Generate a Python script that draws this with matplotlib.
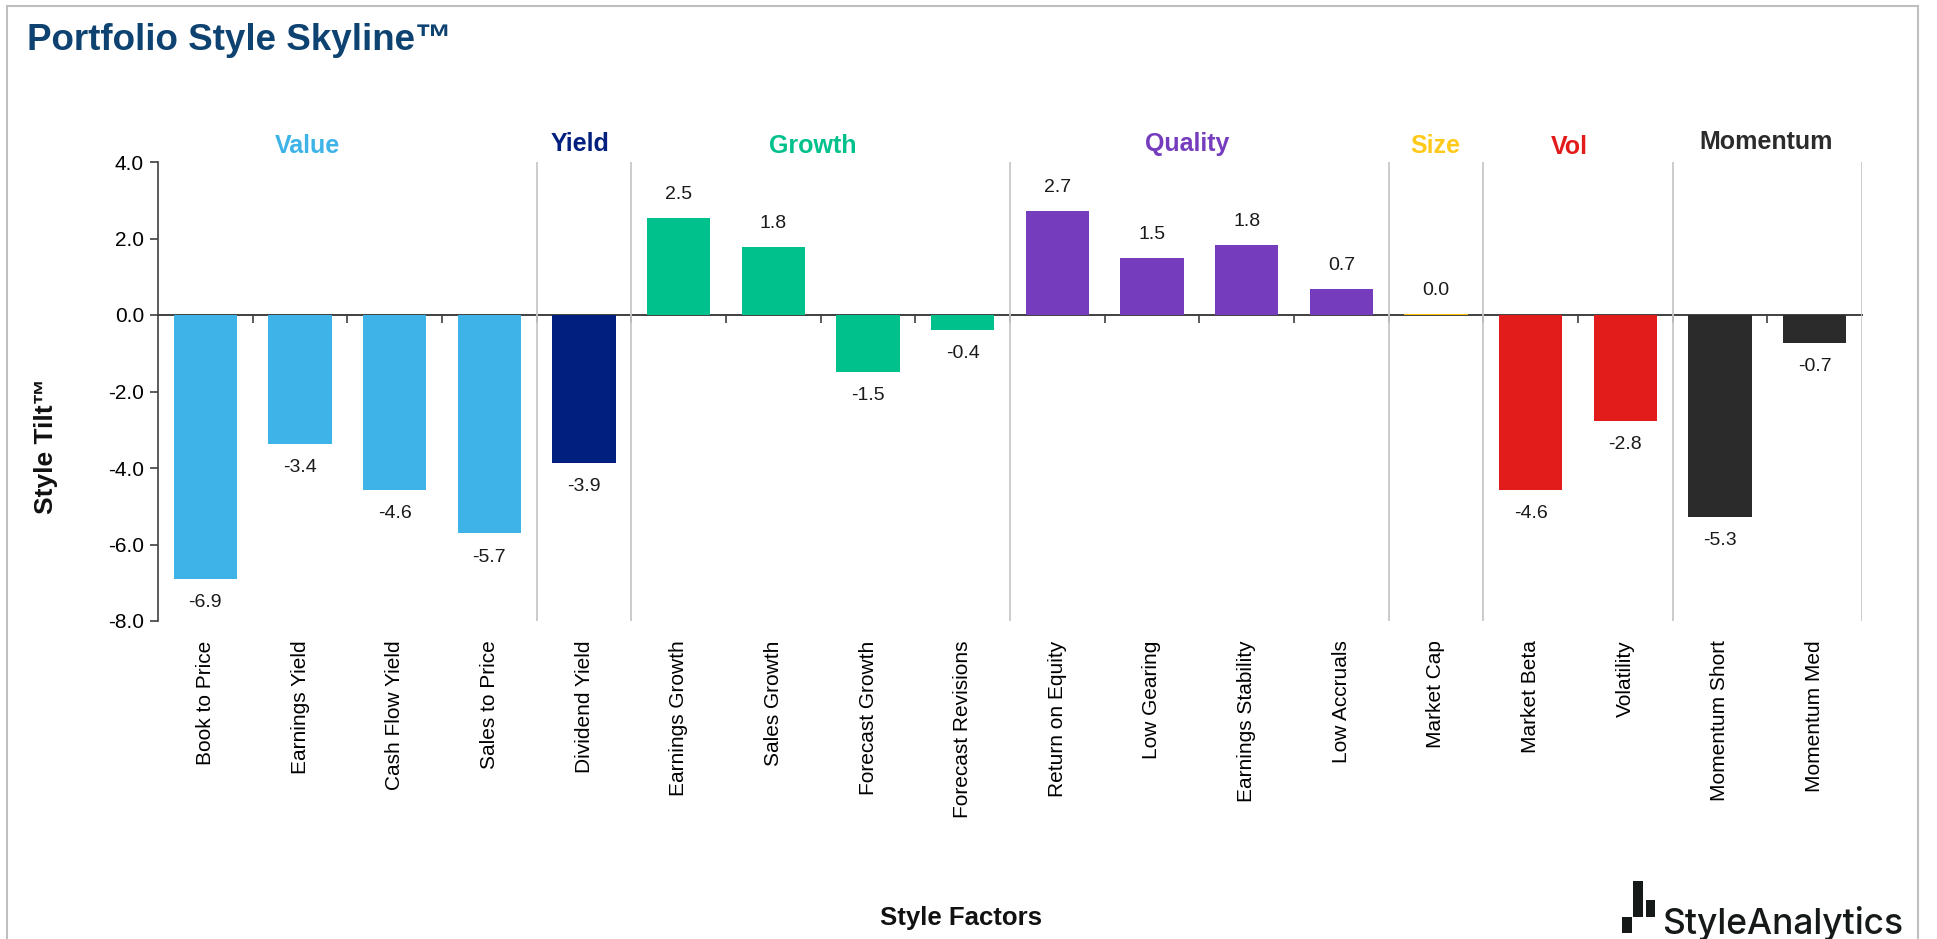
import numpy as np
import matplotlib.pyplot as plt
from matplotlib.patches import Rectangle

factors = ["Book to Price", "Earnings Yield", "Cash Flow Yield", "Sales to Price",
           "Dividend Yield",
           "Earnings Growth", "Sales Growth", "Forecast Growth", "Forecast Revisions",
           "Return on Equity", "Low Gearing", "Earnings Stability", "Low Accruals",
           "Market Cap",
           "Market Beta", "Volatility",
           "Momentum Short", "Momentum Med"]
tilts = [-6.90, -3.37, -4.58, -5.71,
         -3.87,
         2.53, 1.77, -1.48, -0.38,
         2.72, 1.50, 1.83, 0.67,
         0.03,
         -4.58, -2.78,
         -5.27, -0.72]

groups = ["Value", "Yield", "Growth", "Quality", "Size", "Vol", "Momentum"]
group_sizes = [4, 1, 4, 4, 1, 2, 2]
group_colors = ["#3DB3E8", "#001F7E", "#00C08B", "#763CBE", "#FFC000", "#E21B1B", "#2B2B2B"]
label_colors = ["#3DB3E8", "#001F7E", "#00C08B", "#763CBE", "#FFC91A", "#E21B1B", "#2B2B2B"]

plt.rcParams['font.family'] = ['Liberation Sans', 'DejaVu Sans']

W, H = 1937, 939
fig = plt.figure(figsize=(W / 100, H / 100), dpi=100)


def fx(p):
    return p / W


def fy(p):
    return 1 - p / H


# outer frame
fig.add_artist(Rectangle((fx(7), -0.1), fx(1918) - fx(7), fy(6) + 0.1,
                         transform=fig.transFigure, fill=False,
                         edgecolor="#BFBFBF", lw=1.5))

ax = fig.add_axes([fx(158), fy(621), fx(1862) - fx(158), (621 - 162) / H])

x = np.arange(len(factors))
bar_colors = np.repeat(group_colors, group_sizes)
ax.bar(x, tilts, width=0.67, color=bar_colors, zorder=3)

ax.set_xlim(-0.5, len(factors) - 0.5)
ax.set_ylim(-8, 4)
ax.set_yticks(np.arange(-8, 4.1, 2))
ax.yaxis.set_major_formatter(plt.FuncFormatter(lambda v, p: f"{v:.1f}"))
ax.tick_params(axis="y", labelsize=15, length=6, width=1.2, color="#404040", pad=4)

ax.set_xticks(x)
ax.set_xticklabels(factors, rotation=90, fontsize=15, va="top")
ax.tick_params(axis="x", length=0, pad=14)

for s in ["top", "right", "bottom"]:
    ax.spines[s].set_visible(False)
ax.spines["left"].set_color("#404040")
ax.spines["left"].set_linewidth(1.2)

# group separators
bounds = np.cumsum(group_sizes) - 0.5
ax.vlines(bounds, -8, 4, color="#C8C8C8", lw=1.3, zorder=1)

# zero line with little ticks between categories
zero_pos = (0 - ax.get_ylim()[0]) / (ax.get_ylim()[1] - ax.get_ylim()[0])
sec = ax.secondary_xaxis(zero_pos)
sec.set_xticks(x[:-1] + 0.5)
sec.tick_params(direction="in", length=6, width=1.2, color="#404040", labeltop=False, labelbottom=False)
sec.spines["top"].set_color("#404040")
sec.spines["top"].set_linewidth(1.4)
sec.spines["top"].set_zorder(4)

# value labels
for xi, v in zip(x, tilts):
    off = 17 if v >= 0 else -17
    ax.annotate(f"{v:.1f}", (xi, v), xytext=(0, off), textcoords="offset points",
                ha="center", va="center", fontsize=14, color="#1A1A1A")

# group titles (slightly nudged like the original)
label_nudge = [-0.42, -0.04, -0.08, -0.13, -0.01, -0.09, -0.01]
label_y = [4.42, 4.48, 4.42, 4.48, 4.42, 4.40, 4.52]
starts = np.concatenate([[0], np.cumsum(group_sizes)[:-1]])
for g, s0, n, c, dx, ty in zip(groups, starts, group_sizes, label_colors, label_nudge, label_y):
    ax.text(s0 + (n - 1) / 2 + dx, ty, g, ha="center", va="center", fontsize=18,
            fontweight="bold", color=c, clip_on=False)

fig.text(fx(27), fy(41), "Portfolio Style Skyline™", fontsize=26.5, fontweight="bold",
         color="#0D4271", ha="left", va="center")
fig.text(fx(46), fy(446), "Style Tilt™", rotation=90, fontsize=19, fontweight="bold",
         ha="center", va="center", color="#111111")
fig.text(fx(961), fy(918), "Style Factors", fontsize=18.5, fontweight="bold",
         ha="center", va="center", color="#111111")

# logo
for (x0, y0, x1, y1) in [(1622, 917, 1632, 933), (1633, 881, 1643, 917), (1646, 900, 1655, 917)]:
    fig.add_artist(Rectangle((fx(x0), fy(y1)), fx(x1) - fx(x0), fy(y0) - fy(y1),
                             transform=fig.transFigure, color="#151918", lw=0))
fig.text(fx(1662), fy(934), "StyleAnalytics", fontsize=25.5, family=["Inter", "DejaVu Sans"],
         fontweight="medium", color="#151918", ha="left", va="baseline")

fig.savefig("out.png", dpi=100, facecolor="white")
